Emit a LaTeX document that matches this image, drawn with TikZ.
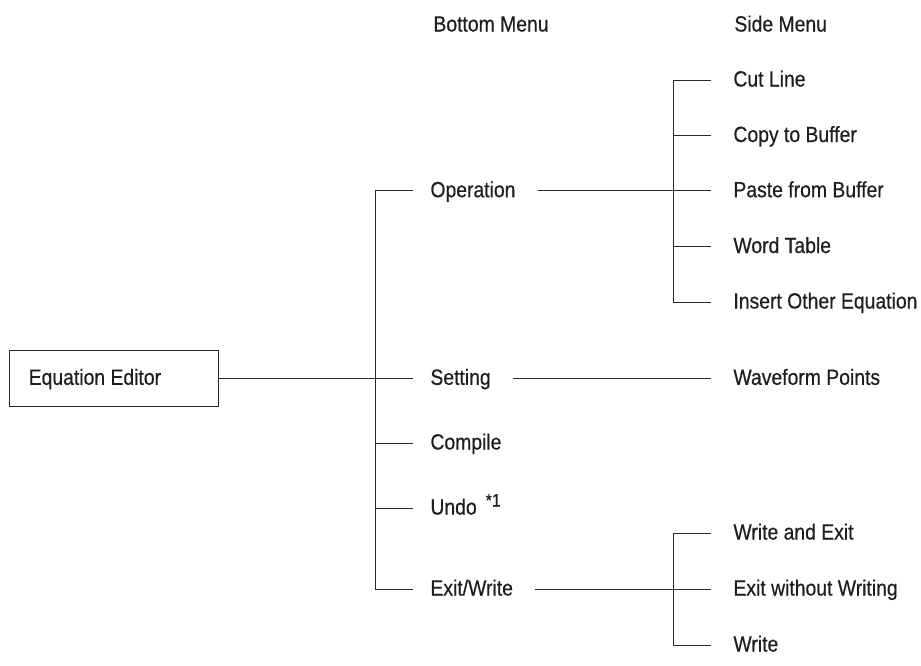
\documentclass[tikz,border=0pt]{standalone}
\usepackage{fontspec}
\setmainfont{Liberation Sans}[FakeStretch=0.88, FakeBold=0.5]
\usepackage{tikz}
\usepackage{xcolor}
\definecolor{ink}{HTML}{1E1E1E}
\definecolor{wire}{HTML}{2A2A2A}

\begin{document}
\begin{tikzpicture}[x=1pt, y=-1pt, line width=0.9pt,
  every node/.style={text=ink, font=\fontsize{22}{25}\selectfont, inner ysep=0pt, text height=16pt, text depth=3pt},
  headitem/.style={anchor=west, inner xsep=0pt},
  bottomitem/.style={anchor=west, inner xsep=17pt},
  sideitem/.style={anchor=west, inner xsep=22pt},
  rootbox/.style={draw=wire, anchor=west, inner xsep=19pt, minimum height=55.3pt}]
\useasboundingbox (0,0) rectangle (921,665);
% === Headers ===
\node[headitem] (headB) at (433,25) {Bottom Menu};
\node[headitem] (headS) at (734,25) {Side Menu};

% === Root ===
\node[rootbox] (editor) at (9.3,378.3) {\makebox[170.4pt][l]{Equation Editor}};

% === Bottom menu ===
\coordinate (trunkA) at (375.5,0);
\node[bottomitem] (op) at (413,190.7) {Operation};
\node[bottomitem] (set) at (413,378.3) {Setting};
\node[bottomitem] (comp) at (413,443) {Compile};
\node[bottomitem] (undo) at (413,508) {Undo\hspace{9pt}\raisebox{8pt}{\fontsize{18}{18}\selectfont *1}};
\node[bottomitem] (exit) at (413,589) {Exit/Write};
\draw[wire] (editor.east) -- (set.west);
\draw[wire] (op.west) -- (op.west -| trunkA) -- (exit.west -| trunkA) -- (exit.west);
\foreach \n in {comp,undo} {
  \draw[wire] (\n.west) -- (\n.west -| trunkA);
}

% === Side menu ===
\coordinate (trunkB) at (673.3,0);
% Operation
\node[sideitem] (cut) at (711,80) {Cut Line};
\node[sideitem] (copy) at (711,135.5) {Copy to Buffer};
\node[sideitem] (paste) at (711,190.7) {Paste from Buffer};
\node[sideitem] (word) at (711,246.5) {Word Table};
\node[sideitem] (insert) at (711,302) {Insert Other Equation};
\draw[wire] (cut.west) -- (cut.west -| trunkB) -- (insert.west -| trunkB) -- (insert.west);
\foreach \n in {copy,paste,word} {
  \draw[wire] (\n.west) -- (\n.west -| trunkB);
}
\draw[wire] ([xshift=5pt]op.east) -- (paste.west);
% Setting
\node[sideitem] (wave) at (711,378.3) {Waveform Points};
\draw[wire] ([xshift=5pt]set.east) -- (wave.west);
% Exit/Write
\node[sideitem] (wexit) at (711,533) {Write and Exit};
\node[sideitem] (nowrite) at (711,589) {Exit without Writing};
\node[sideitem] (write) at (711,645) {Write};
\draw[wire] (wexit.west) -- (wexit.west -| trunkB) -- (write.west -| trunkB) -- (write.west);
\draw[wire] ([xshift=5pt]exit.east) -- (nowrite.west);

\end{tikzpicture}
\end{document}
